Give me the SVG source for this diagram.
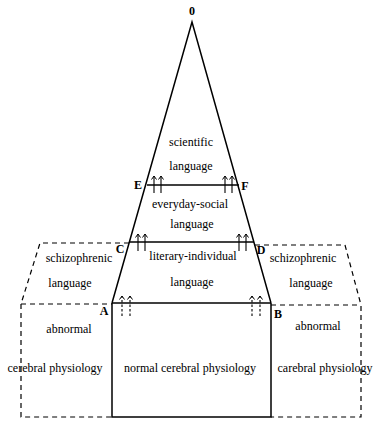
<svg xmlns="http://www.w3.org/2000/svg" width="374" height="422" viewBox="0 0 374 422">
<style>
.s{stroke:#000;stroke-width:1.5;fill:none}
.d{stroke:#000;stroke-width:1.2;fill:none;stroke-dasharray:5,4}
.a{stroke:#000;stroke-width:1.1;fill:none}
.ad{stroke:#000;stroke-width:1.1;fill:none;stroke-dasharray:2.5,2}
text{font-family:"Liberation Serif",serif;font-size:12px;fill:#000;text-anchor:middle}
.l{font-size:12px;font-weight:bold}
</style>
<defs>
<marker id="ah" markerWidth="6" markerHeight="6" refX="5" refY="3" orient="auto" markerUnits="userSpaceOnUse" viewBox="0 0 6 6">
<path d="M1.5,0.5 L5,3 L1.5,5.5" stroke="#000" stroke-width="1" fill="none"/>
</marker>
</defs>
<rect width="374" height="422" fill="#fff"/>
<g id="connectors">
<path class="s" d="M112,303 L192,22 L271,303"/>
<line class="s" x1="147" y1="185" x2="239" y2="185"/>
<line class="s" x1="129" y1="242" x2="254" y2="242"/>
<line class="s" x1="112" y1="303" x2="271" y2="303"/>
<path class="s" d="M112,303 L112,417 L271,417 L271,303"/>
<path class="d" d="M129,243 L40,243 L21,304 L21,417 L112,417"/>
<line class="d" x1="21" y1="304" x2="112" y2="304"/>
<path class="d" d="M255,245 L345,245 L361,305 L361,417 L271,417"/>
<line class="d" x1="271" y1="305" x2="361" y2="305"/>
<line class="a" x1="154" y1="193" x2="154" y2="176" marker-end="url(#ah)"/>
<line class="a" x1="161" y1="193" x2="161" y2="176" marker-end="url(#ah)"/>
<line class="a" x1="225" y1="193" x2="225" y2="176" marker-end="url(#ah)"/>
<line class="a" x1="232" y1="193" x2="232" y2="176" marker-end="url(#ah)"/>
<line class="a" x1="138" y1="251" x2="138" y2="234" marker-end="url(#ah)"/>
<line class="a" x1="145" y1="251" x2="145" y2="234" marker-end="url(#ah)"/>
<line class="a" x1="239" y1="251" x2="239" y2="234" marker-end="url(#ah)"/>
<line class="a" x1="246" y1="251" x2="246" y2="234" marker-end="url(#ah)"/>
<line class="ad" x1="122" y1="316" x2="122" y2="296" marker-end="url(#ah)"/>
<line class="ad" x1="130" y1="316" x2="130" y2="296" marker-end="url(#ah)"/>
<line class="ad" x1="252" y1="316" x2="252" y2="296" marker-end="url(#ah)"/>
<line class="ad" x1="260" y1="316" x2="260" y2="296" marker-end="url(#ah)"/>
</g>
<g id="labels">
<text class="l" x="192" y="15">0</text>
<text class="l" x="138" y="189">E</text>
<text class="l" x="245" y="190">F</text>
<text class="l" x="120" y="253">C</text>
<text class="l" x="261" y="254">D</text>
<text class="l" x="104" y="315">A</text>
<text class="l" x="278" y="318">B</text>
</g>
<g id="scientific"><text x="191" y="146">scientific</text><text x="191" y="170">language</text></g>
<g id="everyday"><text x="190" y="208">everyday-social</text><text x="192" y="228">language</text></g>
<g id="literary"><text x="193" y="260">literary-individual</text><text x="192" y="286">language</text></g>
<g id="schizo-left"><text x="79" y="262">schizophrenic</text><text x="70" y="287">language</text></g>
<g id="schizo-right"><text x="303" y="262">schizophrenic</text><text x="311" y="287">language</text></g>
<g id="abnormal-left"><text x="69" y="333">abnormal</text><text x="55" y="372">cerebral physiology</text></g>
<g id="normal"><text x="190" y="372">normal cerebral physiology</text></g>
<g id="abnormal-right"><text x="318" y="330">abnormal</text><text x="325" y="372">carebral physiology</text></g>
</svg>
